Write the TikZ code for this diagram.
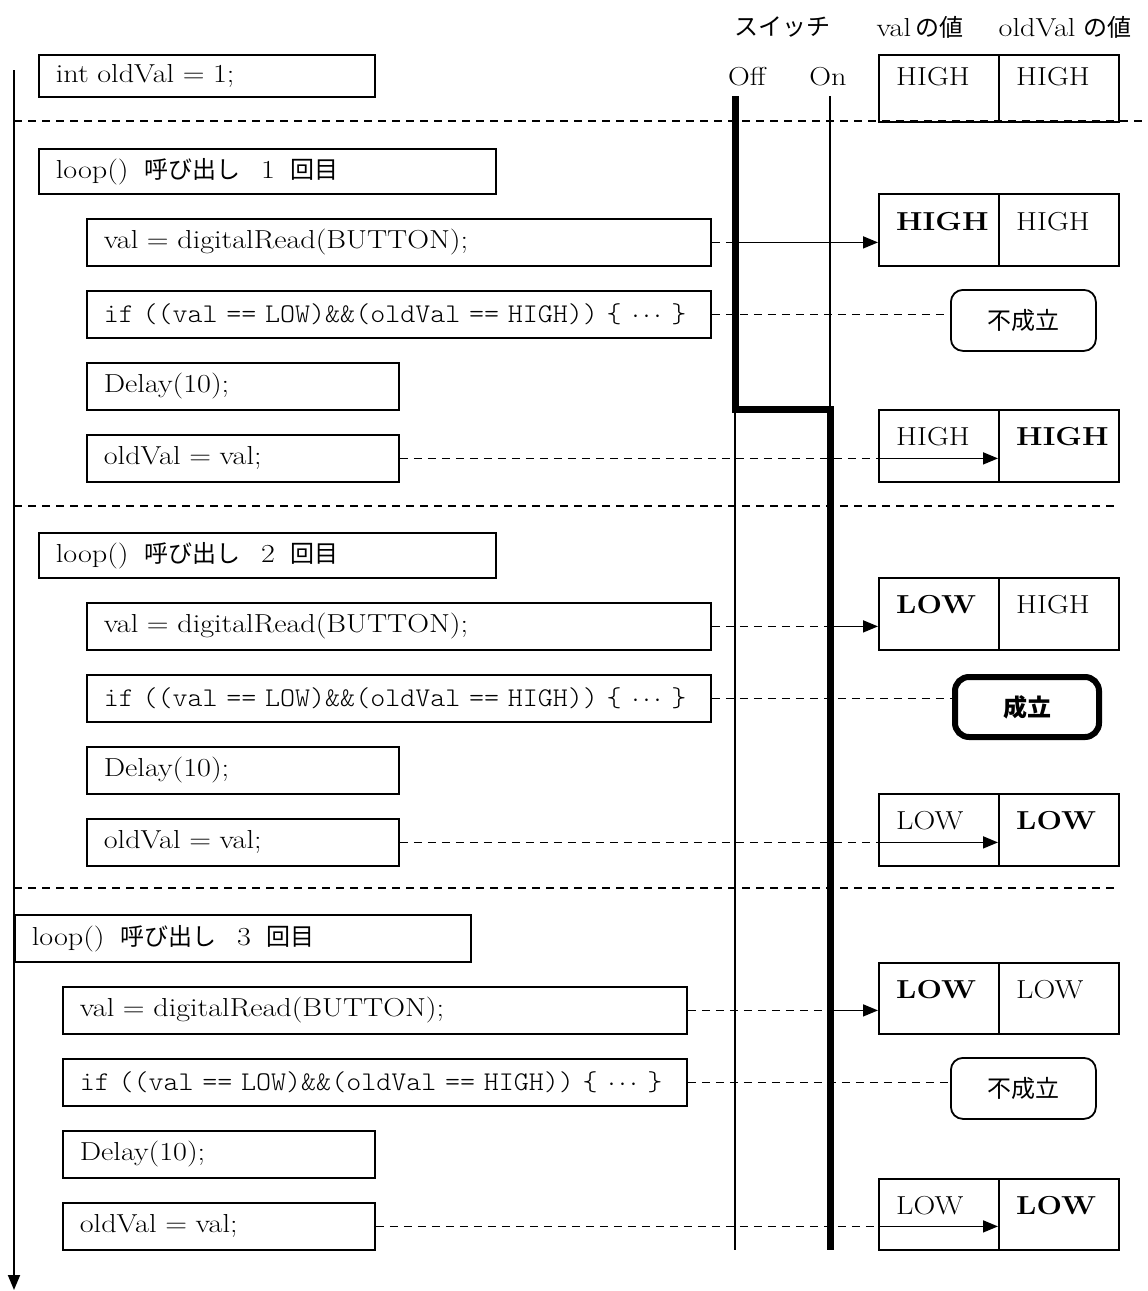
\documentclass[tikz,border=0pt]{standalone}
\usepackage{fontspec}
\setmainfont{Latin Modern Roman}[FakeStretch=1.16]
\newfontfamily\cjk{Noto Sans CJK JP}
\newfontfamily\codefont{Latin Modern Mono Light}[FakeStretch=1.06]
\usetikzlibrary{arrows.meta}
\newcommand\bigtxt{\fontsize{26pt}{30pt}\selectfont}
\newcommand\jp[1]{{\cjk\fontsize{24pt}{28pt}\selectfont #1}}
\newcommand\monotxt{\codefont\fontsize{27pt}{30pt}\selectfont}
\newcommand\looplabel[1]{loop()\hspace{0.6em}\jp{呼び出し}\hspace{0.8em}#1\hspace{0.6em}\jp{回目}}
\newcommand\iftext{\mbox{\monotxt if ((val == LOW)\&\&(oldVal == HIGH)) \{ \makebox[1.2em]{$\cdots$} \}}}
\begin{document}
\begin{tikzpicture}[x=1pt,y=-1pt,
  thin line/.style={line width=1.8pt},
  codebox/.style={draw, line width=1.8pt, anchor=north west, inner xsep=17pt, inner ysep=0pt,
                  minimum height=47pt, align=left, font=\bigtxt},
  cell/.style={draw, line width=1.8pt, anchor=north west, minimum width=120pt, minimum height=72pt, inner sep=0pt},
  celltext/.style={anchor=west, font=\bigtxt, inner sep=0pt},
  dashline/.style={line width=1.6pt, dash pattern=on 8pt off 6pt},
  solidarrow/.style={line width=1.6pt, -{Triangle[length=15pt,width=12pt]}},
  result/.style={draw, line width=1.8pt, rounded corners=12pt, anchor=north west, minimum width=145pt,
                 minimum height=61pt, inner sep=0pt},
  sep/.style={line width=1.4pt, dash pattern=on 8pt off 6pt}]

\useasboundingbox (0,0) rectangle (1148,1291);

% time axis
\coordinate (tTop) at (14,70);
\coordinate (tEnd) at (14,1290);
\draw[line width=1.8pt, -{Triangle[length=15pt,width=12pt]}] (tTop) -- (tEnd);

% column headings
\node[font=\bigtxt] (hSwitch) at (782,27) {\jp{スイッチ}};
\node[font=\bigtxt] (hVal) at (920,27) {val\,\jp{の値}};
\node[font=\bigtxt] (hOld) at (1065,27) {oldVal\hspace{0.3em}\jp{の値}};
\node[font=\bigtxt] (hOff) at (747,77) {Off};
\node[font=\bigtxt] (hOn) at (828,77) {On};

% section separators
\coordinate (s0a) at (14,121);  \coordinate (s0b) at (1148,121);
\coordinate (s1a) at (14,506);  \coordinate (s1b) at (1115,506);
\coordinate (s2a) at (14,888);  \coordinate (s2b) at (1115,888);
\draw[sep] (s0a) -- (s0b);
\draw[sep] (s1a) -- (s1b);
\draw[sep] (s2a) -- (s2b);

% switch state lines
\coordinate (sOff) at (735,96);
\coordinate (sOn) at (830,96);
\coordinate (sOffEnd) at (735,1250);
\coordinate (sOnEnd) at (830,1250);
\coordinate (sPress) at (735,409);
\coordinate (sPressOn) at (830,409);
\draw[thin line] (sOff) -- (sOffEnd);
\draw[thin line] (sOn) -- (sOnEnd);
\draw[line width=7pt, line join=miter] (sOff) -- (sPress) -- (sPressOn) -- (sOnEnd);

% initial value
\node[codebox, minimum height=42pt, text width=302pt] (init) at (38,54) {int oldVal = 1;};
\node[cell, minimum height=67pt] (b0l) at (878,54) {};
\node[cell, minimum height=67pt] (b0r) at (998,54) {};
\node[celltext] (b0lt) at (896,77) {HIGH};
\node[celltext] (b0rt) at (1016,77) {HIGH};

% ---------- loop 1 ----------
\node[codebox, minimum height=45pt, text width=423pt] (loop1) at (38,148) {\looplabel{1}};
\node[codebox, text width=590pt] (v1) at (86,218) {val = digitalRead(BUTTON);};
\node[codebox, text width=590pt] (i1) at (86,290) {\iftext};
\node[codebox, text width=278pt] (d1) at (86,362) {Delay(10);};
\node[codebox, text width=278pt] (o1) at (86,434) {oldVal = val;};

\node[cell] (b1l) at (878,193) {};
\node[cell] (b1r) at (998,193) {};
\node[celltext] (b1lt) at (896,222) {\bfseries HIGH};
\node[celltext] (b1rt) at (1016,222) {HIGH};
\node[result] (r1) at (950,289) {\jp{不成立}};
\node[cell] (b2l) at (878,409) {};
\node[cell] (b2r) at (998,409) {};
\node[celltext] (b2lt) at (896,437) {HIGH};
\node[celltext] (b2rt) at (1016,437) {\bfseries HIGH};

\draw[dashline] (v1.east) -- (v1.east -| sOff);
\draw[solidarrow] (v1.east -| sOff) -- (v1.east -| b1l.west);
\draw[dashline] (i1.east) -- (i1.east -| r1.west);
\draw[dashline] (o1.east) -- (o1.east -| b2l.west);
\draw[solidarrow] (o1.east -| b2l.west) -- (o1.east -| b2r.west);

% ---------- loop 2 ----------
\node[codebox, minimum height=45pt, text width=423pt] (loop2) at (38,532) {\looplabel{2}};
\node[codebox, text width=590pt] (v2) at (86,602) {val = digitalRead(BUTTON);};
\node[codebox, text width=590pt] (i2) at (86,674) {\iftext};
\node[codebox, text width=278pt] (d2) at (86,746) {Delay(10);};
\node[codebox, text width=278pt] (o2) at (86,818) {oldVal = val;};

\node[cell] (b3l) at (878,577) {};
\node[cell] (b3r) at (998,577) {};
\node[celltext] (b3lt) at (896,605) {\bfseries LOW};
\node[celltext] (b3rt) at (1016,605) {HIGH};
\node[result, line width=6pt, rounded corners=14pt, minimum width=144pt, minimum height=60pt] (r2) at (952,674)
  {{\cjk\bfseries\fontsize{24pt}{28pt}\selectfont 成立}};
\node[cell] (b4l) at (878,793) {};
\node[cell] (b4r) at (998,793) {};
\node[celltext] (b4lt) at (896,821) {LOW};
\node[celltext] (b4rt) at (1016,821) {\bfseries LOW};

\draw[dashline] (v2.east) -- (v2.east -| sOn);
\draw[solidarrow] (v2.east -| sOn) -- (v2.east -| b3l.west);
\draw[dashline] (i2.east) -- (i2.east -| r2.west);
\draw[dashline] (o2.east) -- (o2.east -| b4l.west);
\draw[solidarrow] (o2.east -| b4l.west) -- (o2.east -| b4r.west);

% ---------- loop 3 ----------
\node[codebox, text width=422pt] (loop3) at (14,914) {\looplabel{3}};
\node[codebox, text width=590pt] (v3) at (62,986) {val = digitalRead(BUTTON);};
\node[codebox, text width=590pt] (i3) at (62,1058) {\iftext};
\node[codebox, text width=278pt] (d3) at (62,1130) {Delay(10);};
\node[codebox, text width=278pt] (o3) at (62,1202) {oldVal = val;};

\node[cell, minimum height=71pt] (b5l) at (878,962) {};
\node[cell, minimum height=71pt] (b5r) at (998,962) {};
\node[celltext] (b5lt) at (896,990) {\bfseries LOW};
\node[celltext] (b5rt) at (1016,990) {LOW};
\node[result] (r3) at (950,1057) {\jp{不成立}};
\node[cell, minimum height=71pt] (b6l) at (878,1178) {};
\node[cell, minimum height=71pt] (b6r) at (998,1178) {};
\node[celltext] (b6lt) at (896,1206) {LOW};
\node[celltext] (b6rt) at (1016,1206) {\bfseries LOW};

\draw[dashline] (v3.east) -- (v3.east -| sOn);
\draw[solidarrow] (v3.east -| sOn) -- (v3.east -| b5l.west);
\draw[dashline] (i3.east) -- (i3.east -| r3.west);
\draw[dashline] (o3.east) -- (o3.east -| b6l.west);
\draw[solidarrow] (o3.east -| b6l.west) -- (o3.east -| b6r.west);

\end{tikzpicture}
\end{document}
